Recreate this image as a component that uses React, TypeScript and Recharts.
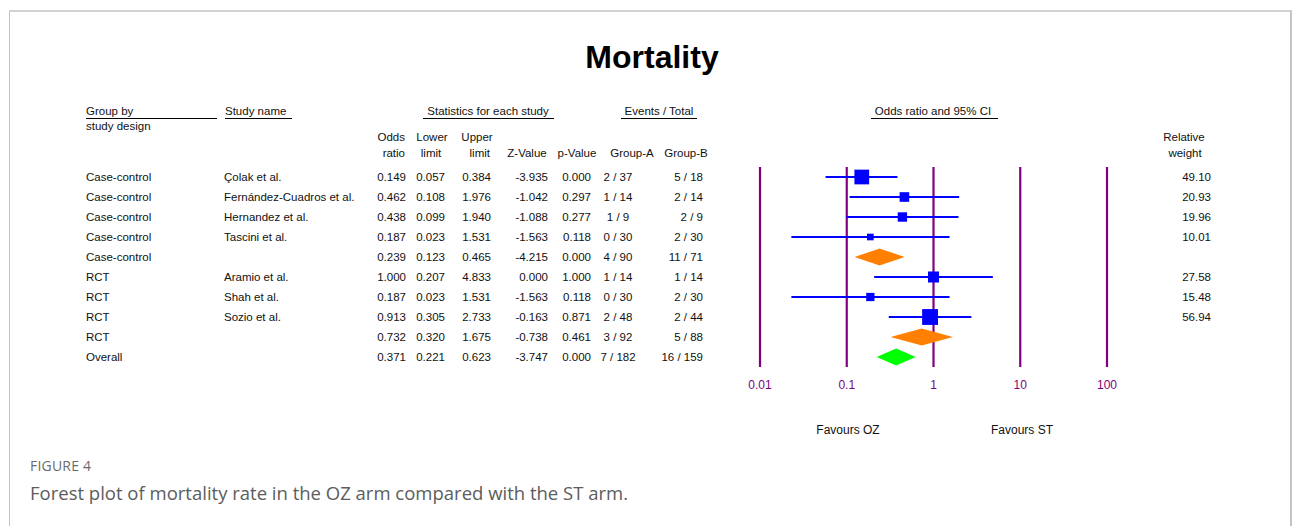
import React from 'react';
import { ComposedChart, XAxis, YAxis, Scatter, ReferenceLine, Customized } from 'recharts';

// ---------- data ----------
const STUDY_DESIGN = ['Case-control', 'Case-control', 'Case-control', 'Case-control', 'Case-control', 'RCT', 'RCT', 'RCT', 'RCT', 'Overall'];
const STUDY_NAME = ['Çolak et al.', 'Fernández-Cuadros et al.', 'Hernandez et al.', 'Tascini et al.', '', 'Aramio et al.', 'Shah et al.', 'Sozio et al.', '', ''];
const ROW_KIND = ['study', 'study', 'study', 'study', 'subgroup', 'study', 'study', 'study', 'subgroup', 'overall'];
const ODDS_RATIO = [0.149, 0.462, 0.438, 0.187, 0.239, 1.0, 0.187, 0.913, 0.732, 0.371];
const LOWER = [0.057, 0.108, 0.099, 0.023, 0.123, 0.207, 0.023, 0.305, 0.32, 0.221];
const UPPER = [0.384, 1.976, 1.94, 1.531, 0.465, 4.833, 1.531, 2.733, 1.675, 0.623];
const Z_VALUE = [-3.935, -1.042, -1.088, -1.563, -4.215, 0.0, -1.563, -0.163, -0.738, -3.747];
const P_VALUE = [0.0, 0.297, 0.277, 0.118, 0.0, 1.0, 0.118, 0.871, 0.461, 0.0];
const EVENTS_A = ['2 / 37', '1 / 14', '1 / 9', '0 / 30', '4 / 90', '1 / 14', '0 / 30', '2 / 48', '3 / 92', '7 / 182'];
const EVENTS_B = ['5 / 18', '2 / 14', '2 / 9', '2 / 30', '11 / 71', '1 / 14', '2 / 30', '2 / 44', '5 / 88', '16 / 159'];
const WEIGHT: (number | null)[] = [49.1, 20.93, 19.96, 10.01, null, 27.58, 15.48, 56.94, null, null];
const AXIS_TICKS = [0.01, 0.1, 1, 10, 100];

const TITLE = 'Mortality';
const FAVOURS = ['Favours OZ', 'Favours ST'];
const CAPTION_LABEL = 'FIGURE 4';
const CAPTION_TEXT = 'Forest plot of mortality rate in the OZ arm compared with the ST arm.';

// ---------- derived ----------
const rows = STUDY_DESIGN.map((d, i) => ({
  row: i,
  or: ODDS_RATIO[i],
  lo: LOWER[i],
  hi: UPPER[i],
  w: WEIGHT[i],
  kind: ROW_KIND[i],
}));
const studyRows = rows.filter((r) => r.kind === 'study');
const pooledRows = rows.filter((r) => r.kind !== 'study');

// ---------- layout / style ----------
const W = 1295;
const H = 526;
const PLOT_TOP = 167;
const PLOT_BOTTOM = 367;
const PLOT_LEFT = 760;
const PLOT_RIGHT = 1107;
const ROW_Y0 = 177;
const ROW_STEP = 20;
const FONT = "'Liberation Sans', Arial, Helvetica, sans-serif";
const PURPLE = '#800080';
const BLUE = '#0000ff';
const ORANGE = '#ff8000';
const GREEN = '#00ff00';

const fmt3 = (v: number) => v.toFixed(3);

const Square = (props: any) => {
  const { cx, cy, payload } = props;
  if (cx == null || cy == null) return null;
  const s = 2.1 * Math.sqrt(payload.w);
  return <rect x={cx - s / 2} y={cy - s / 2} width={s} height={s} fill={BLUE} />;
};

const makeDiamond = (color: string) => (props: any) => {
  const { x1, y1, x2, y2 } = props;
  if (x1 == null) return <g />;
  const mx = (x1 + x2) / 2;
  const h = 8.5;
  return <polygon points={`${x1},${y1} ${mx},${y1 - h} ${x2},${y2} ${mx},${y1 + h}`} fill={color} />;
};

const T = (p: any) => {
  const { x, y, anchor = 'start', children, ...rest } = p;
  return (
    <text x={x} y={y} dy="0.35em" textAnchor={anchor} {...rest}>
      {children}
    </text>
  );
};

const Underline = ({ x1, x2, y }: { x1: number; x2: number; y: number }) => (
  <line x1={x1} x2={x2} y1={y} y2={y} stroke="#000" strokeWidth={1} />
);

const TableText = () => {
  const rowY = (i: number) => ROW_Y0 + i * ROW_STEP;
  return (
    <g fontFamily={FONT} fontSize={11.5} fill="#111">
      <text x={652} y={57} dy="0.35em" textAnchor="middle" fontSize={32} fontWeight="bold" fill="#000">
        {TITLE}
      </text>

      {/* header row 1 */}
      <T x={86} y={111}>Group by</T>
      <Underline x1={86} x2={217} y={118.5} />
      <T x={86} y={126}>study design</T>
      <T x={225} y={111}>Study name</T>
      <Underline x1={225} x2={292} y={118.5} />
      <T x={488} y={111} anchor="middle">Statistics for each study</T>
      <Underline x1={423} x2={554} y={118.5} />
      <T x={659} y={111} anchor="middle">Events / Total</T>
      <Underline x1={621} x2={697} y={118.5} />
      <T x={933} y={111} anchor="middle">Odds ratio and 95% CI</T>
      <Underline x1={871} x2={998} y={118.5} />

      {/* header rows 2/3 */}
      <T x={405} y={137} anchor="end">Odds</T>
      <T x={405} y={153} anchor="end">ratio</T>
      <T x={432} y={137} anchor="middle">Lower</T>
      <T x={431} y={153} anchor="middle">limit</T>
      <T x={477} y={137} anchor="middle">Upper</T>
      <T x={490} y={153} anchor="end">limit</T>
      <T x={527} y={153} anchor="middle">Z-Value</T>
      <T x={577} y={153} anchor="middle">p-Value</T>
      <T x={632} y={153} anchor="middle">Group-A</T>
      <T x={686} y={153} anchor="middle">Group-B</T>
      <T x={1184} y={137} anchor="middle">Relative</T>
      <T x={1185} y={153} anchor="middle">weight</T>

      {rows.map((r, i) => (
        <g key={i}>
          <T x={86} y={rowY(i)}>{STUDY_DESIGN[i]}</T>
          <T x={224} y={rowY(i)}>{STUDY_NAME[i]}</T>
          <T x={406} y={rowY(i)} anchor="end">{fmt3(ODDS_RATIO[i])}</T>
          <T x={445} y={rowY(i)} anchor="end">{fmt3(LOWER[i])}</T>
          <T x={491} y={rowY(i)} anchor="end">{fmt3(UPPER[i])}</T>
          <T x={548} y={rowY(i)} anchor="end">{fmt3(Z_VALUE[i])}</T>
          <T x={591} y={rowY(i)} anchor="end">{fmt3(P_VALUE[i])}</T>
          <T x={618} y={rowY(i)} anchor="middle">{EVENTS_A[i]}</T>
          <T x={703} y={rowY(i)} anchor="end">{EVENTS_B[i]}</T>
          {WEIGHT[i] != null && (
            <T x={1211} y={rowY(i)} anchor="end">{(WEIGHT[i] as number).toFixed(2)}</T>
          )}
        </g>
      ))}

      <T x={848} y={430} anchor="middle" fontSize={12}>{FAVOURS[0]}</T>
      <T x={1022} y={430} anchor="middle" fontSize={12}>{FAVOURS[1]}</T>

      <g fontFamily="'Open Sans', 'Noto Sans', sans-serif">
        <T x={30} y={466} fontSize={14} fill="#6a6a6a" letterSpacing={0.2}>{CAPTION_LABEL}</T>
        <T x={30} y={494} fontSize={18.5} fill="#5c5c5c">{CAPTION_TEXT}</T>
      </g>
    </g>
  );
};

export default function App() {
  return (
    <div style={{ position: 'absolute', left: 0, top: 0, width: W, height: H, background: '#fff' }}>
      <div
        style={{
          position: 'absolute',
          left: 9,
          top: 10,
          width: W - 9 - 3,
          height: H,
          borderTop: '2px solid #d2d2d2',
          borderLeft: '1px solid #c4c4c4',
          borderRight: '2px solid #c4c4c4',
          boxSizing: 'border-box',
        }}
      />
      <div style={{ position: 'absolute', left: 0, top: 0 }}>
        <ComposedChart
          width={W}
          height={H}
          margin={{ top: PLOT_TOP, right: W - PLOT_RIGHT, bottom: H - PLOT_BOTTOM - 30, left: PLOT_LEFT }}
        >
          <XAxis
            type="number"
            dataKey="or"
            scale="log"
            domain={[0.01, 100]}
            ticks={AXIS_TICKS}
            allowDataOverflow
            axisLine={false}
            tickLine={false}
            tickMargin={7}
            height={30}
            interval={0}
            tick={{ fill: PURPLE, fontSize: 12, fontFamily: FONT }}
            tickFormatter={(v: number) => String(v)}
          />
          <YAxis type="number" dataKey="row" domain={[-0.5, 9.5]} reversed hide allowDataOverflow />

          {AXIS_TICKS.map((t) => (
            <ReferenceLine key={`v${t}`} x={t} stroke={PURPLE} strokeWidth={2.2} />
          ))}

          {studyRows.map((r) => (
            <ReferenceLine
              key={`ci${r.row}`}
              segment={[{ x: r.lo, y: r.row }, { x: r.hi, y: r.row }]}
              stroke={BLUE}
              strokeWidth={2}
            />
          ))}

          {pooledRows.map((r) => (
            <ReferenceLine
              key={`d${r.row}`}
              segment={[{ x: r.lo, y: r.row }, { x: r.hi, y: r.row }]}
              shape={makeDiamond(r.kind === 'overall' ? GREEN : ORANGE)}
            />
          ))}

          <Scatter data={studyRows} shape={Square} isAnimationActive={false} />

          <Customized component={<TableText />} />
        </ComposedChart>
      </div>
    </div>
  );
}
